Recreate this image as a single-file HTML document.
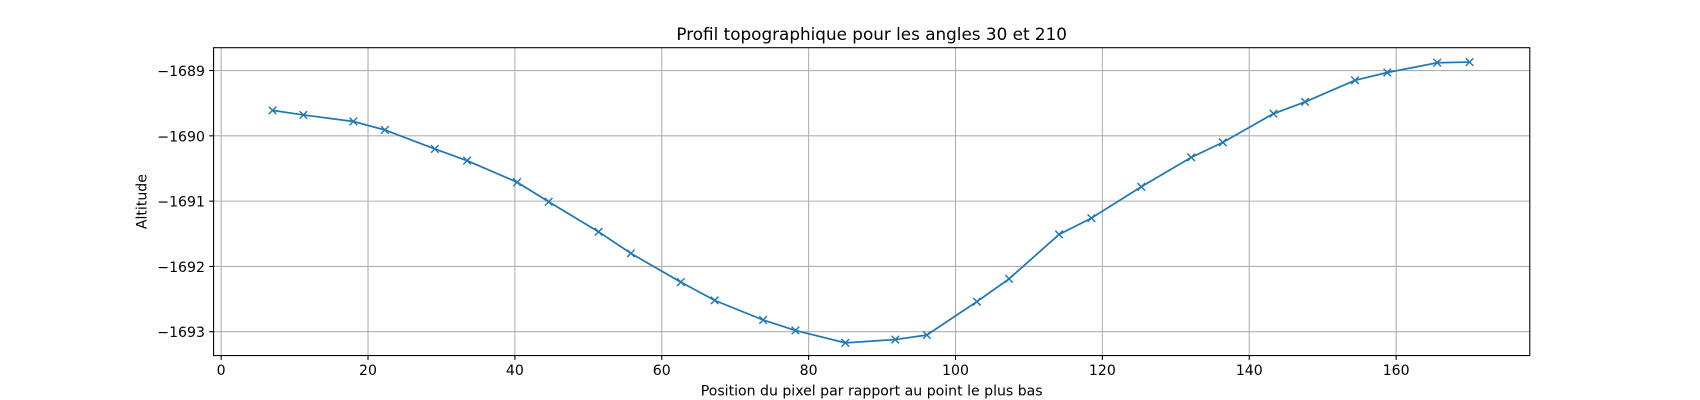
<!DOCTYPE html>
<html><head><meta charset="utf-8"><style>
body{margin:0;background:#fff;font-family:"Liberation Sans","DejaVu Sans",sans-serif;overflow:hidden}
svg{display:block}
svg text{font-family:"DejaVu Sans","Liberation Sans",sans-serif;font-size:13px;fill:#000}
</style></head><body>
<svg id="chart" width="1700" height="400" viewBox="0 0 1568 369" preserveAspectRatio="none" xmlns="http://www.w3.org/2000/svg">
<rect width="1568" height="369" fill="#fff"/>
<text x="804" y="37" text-anchor="middle" style="font-size:15.5px">Profil topographique pour les angles 30 et 210</text>
<g id="grid"></g><g id="ticks"></g>
<text x="804" y="365" text-anchor="middle">Position du pixel par rapport au point le plus bas</text>
<text transform="translate(135,186) rotate(-90)" text-anchor="middle">Altitude</text>
<g id="series"></g>
<rect x="197" y="44" width="1214" height="284" fill="none" stroke="#000" stroke-width="1"/>
</svg>
<script>
const xs=[7,11.2,18,22.3,29.1,33.5,40.3,44.6,51.4,55.8,62.6,67.2,73.8,78.2,85,91.8,96.1,102.9,107.3,114.1,118.5,125.3,132.1,136.4,143.3,147.6,154.4,158.8,165.6,170];
const ys=[-1689.61,-1689.68,-1689.78,-1689.91,-1690.2,-1690.38,-1690.71,-1691.01,-1691.47,-1691.8,-1692.24,-1692.52,-1692.82,-1692.98,-1693.17,-1693.12,-1693.05,-1692.54,-1692.19,-1691.51,-1691.26,-1690.78,-1690.33,-1690.1,-1689.66,-1689.48,-1689.15,-1689.03,-1688.88,-1688.87];
const xTicks=[0,20,40,60,80,100,120,140,160];
const yTicks=[-1689,-1690,-1691,-1692,-1693];
const L=197,R=1411,T=44,B=328;
const xMin=-1.03,xMax=178.2,yMin=-1693.365,yMax=-1688.65;
const sx=v=>L+(v-xMin)/(xMax-xMin)*(R-L);
const sy=v=>B-(v-yMin)/(yMax-yMin)*(B-T);
const NS="http://www.w3.org/2000/svg";
function mk(tag,attrs,parent){const e=document.createElementNS(NS,tag);for(const k in attrs)e.setAttribute(k,attrs[k]);parent.appendChild(e);return e;}
const grid=document.getElementById('grid'),ticks=document.getElementById('ticks'),ser=document.getElementById('series');
xTicks.forEach(t=>{const x=sx(t);
 const g=mk('line',{x1:x,x2:x,y1:T,y2:B,stroke:'#b0b0b0','stroke-width':1},grid);
 
 
 mk('line',{x1:x,x2:x,y1:B,y2:B+4,stroke:'#000'},ticks);
 const tx=mk('text',{x:x,y:B+18,'text-anchor':'middle'},ticks);tx.textContent=t;
 
 
});
yTicks.forEach(t=>{const y=sy(t);
 const g=mk('line',{x1:L,x2:R,y1:y,y2:y,stroke:'#b0b0b0','stroke-width':1},grid);
 
 
 mk('line',{x1:L-4,x2:L,y1:y,y2:y,stroke:'#000'},ticks);
 const tx=mk('text',{x:L-8,y:y+5,'text-anchor':'end'},ticks);tx.textContent='\u2212'+Math.abs(t);
 
 
});
const pts=xs.map((x,i)=>sx(x)+','+sy(ys[i])).join(' ');
const pl=mk('polyline',{points:pts,fill:'none',stroke:'#1f77b4','stroke-width':1.6},ser);


xs.forEach((x,i)=>{const cx=sx(x),cy=sy(ys[i]),d=3.5;
 const p=mk('path',{d:`M${cx-d},${cy-d}L${cx+d},${cy+d}M${cx-d},${cy+d}L${cx+d},${cy-d}`,stroke:'#1f77b4','stroke-width':1.3,fill:'none'},ser);
 
 
});
</script>
</body></html>
